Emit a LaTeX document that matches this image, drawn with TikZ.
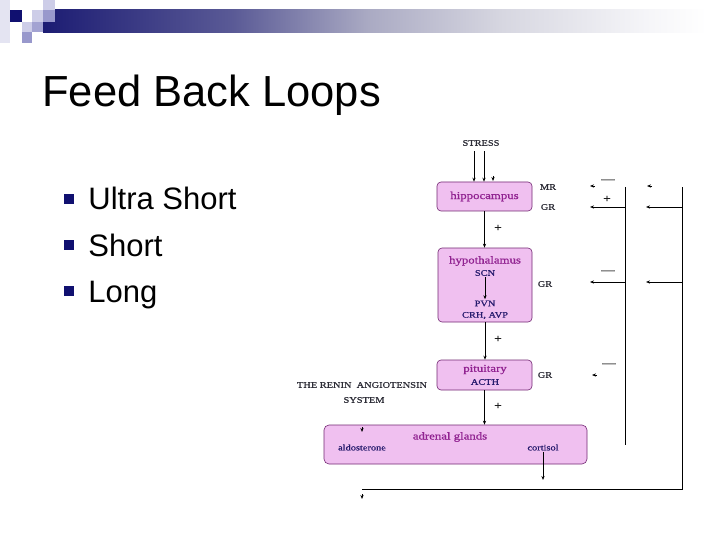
\documentclass[tikz,border=0pt]{standalone}
\usepackage{fontspec}
\setmainfont{Liberation Sans}
\newfontfamily\diagfont[FakeStretch=1.22, FakeBold=0.8]{Liberation Serif}
\usepackage{xcolor}
\usetikzlibrary{arrows.meta}

\definecolor{navyblue}{RGB}{16,16,112}
\definecolor{barA}{RGB}{28,28,115}
\definecolor{barB}{RGB}{90,90,150}
\definecolor{barC}{RGB}{170,170,195}
\definecolor{barD}{RGB}{215,215,225}
\definecolor{barE}{RGB}{245,245,248}
\definecolor{sqPale}{RGB}{228,228,242}
\definecolor{sqLight}{RGB}{205,205,232}
\definecolor{sqMid}{RGB}{152,152,204}
\definecolor{boxpink}{RGB}{240,192,240}
\definecolor{boxline}{RGB}{115,40,115}
\definecolor{organtext}{RGB}{145,35,145}
\definecolor{subtext}{RGB}{40,28,110}
\definecolor{tagtext}{RGB}{45,45,55}

\pgfdeclarehorizontalshading{titlebar}{100bp}{%
color(0bp)=(barA); color(25bp)=(barA); color(39bp)=(barB);
color(49bp)=(barC); color(59bp)=(barD); color(69.5bp)=(barE);
color(74bp)=(white); color(100bp)=(white)}

\def\tagSize{\fontsize{8.5}{9}\selectfont}
\def\organSize{\fontsize{10.5}{11}\selectfont}
\def\signSize{\fontsize{11}{11}\selectfont}
\def\stubLen{5}
\newcommand{\stubtip}[4]{%
% #1 = name, #2 = x, #3 = y, #4 = direction (1=left, 2=down)

\ifnum#4=1
\coordinate (#1 from) at ({#2+\stubLen},{#3});
\fi

\ifnum#4=2
\coordinate (#1 from) at ({#2},{#3-\stubLen});
\fi

\coordinate (#1) at ({#2},{#3});
\draw[->] (#1 from) -- (#1);
}

\begin{document}
\begin{tikzpicture}[
    x=1pt, y=-1pt,
    line width=0.8pt,
    >={Stealth[length=4pt,width=3.2pt]},
    organbox/.style={draw=boxline, fill=boxpink, line width=0.6pt, rounded corners=4pt,
        text=organtext, font=\diagfont\organSize, inner sep=0pt},
    organname/.style={text=organtext, font=\diagfont\organSize, inner sep=1pt},
    subname/.style={text=subtext, font=\diagfont\tagSize, inner sep=1pt},
    tag/.style={text=tagtext, font=\diagfont\tagSize, inner sep=1pt},
    sign/.style={text=black, font=\diagfont\signSize, inner sep=0pt}
]
\useasboundingbox (0,0) rectangle (720,540);
\fill[white] (0,0) rectangle (720,540);

% title bar
\shade[shading=titlebar] (43,10) rectangle (720,33);
\fill[sqPale] (0,0) rectangle (10,43);
\fill[navyblue] (10,10) rectangle (22,22);
\fill[sqLight] (22,22) rectangle (32,32);
\fill[sqMid] (22,32) rectangle (32,43);
\fill[sqLight] (32,10) rectangle (43,22);
\fill[sqMid!80!sqLight] (32,22) rectangle (43,32);
\fill[sqLight] (43,0) rectangle (55,10);
\fill[sqMid] (43,10) rectangle (55,22);

% title and bullets
\node[anchor=base west, font=\fontsize{43.5}{44}\selectfont, inner sep=0pt] (title) at (42,107) {Feed Back Loops};
\foreach \y/\txt [count=\i] in {210/Ultra Short,256/Short,302/Long}{
  \node[fill=navyblue, minimum size=10.5pt, inner sep=0pt] (bullet\i) at (69,\y-11) {};
  \node[anchor=base west, font=\fontsize{31}{31}\selectfont, inner sep=0pt] (item\i) at (88,\y) {\txt};
}

% organs
\node[tag] (stress) at (481,143) {STRESS};
\node[organbox, minimum width=95pt, minimum height=29pt] (hippo) at (484.5,196.5) {hippocampus};
\node[organbox, minimum width=94pt, minimum height=74pt] (hypo) at (485,285) {};
\node[organname] (hyponame) at (485,261) {hypothalamus};
\node[subname] (scn) at (485,273) {SCN};
\node[subname] (pvn) at (485,303.5) {PVN};
\node[subname] (crh) at (485,315.5) {CRH, AVP};
\node[organbox, minimum width=95pt, minimum height=30pt] (pit) at (484.5,375) {};
\node[organname] (pitname) at (485,369.5) {pituitary};
\node[subname] (acth) at (485,382) {ACTH};
\node[organbox, minimum width=263pt, minimum height=39pt, rounded corners=5pt] (adrenal) at (455.5,444.5) {};
\node[organname] (adrenalname) at (450,437) {adrenal glands};
\node[subname] (aldo) at (362,447.5) {aldosterone};
\node[subname] (cort) at (543,447.5) {cortisol};

% receptors and side labels
\node[tag] (mr) at (548,187) {MR};
\node[tag] (grHippo) at (548,207) {GR};
\node[tag] (grHypo) at (545,284) {GR};
\node[tag] (grPit) at (545,375) {GR};
\node[tag] (renin) at (362,385) {THE RENIN\ \ ANGIOTENSIN};
\node[tag] (system) at (364,400) {SYSTEM};

% signs
\node[sign] (plusA) at (498,228) {+};
\node[sign] (plusB) at (498,339) {+};
\node[sign] (plusC) at (498,406) {+};
\node[sign] (plusD) at (607,199) {+};
\node[sign] (minusA) at (608,181) {—};
\node[sign] (minusB) at (608,272) {—};
\node[sign] (minusC) at (609,365) {—};

% main axis
\draw[->, shorten <=4pt] ([xshift=-7pt]stress.south) -- ([xshift=-10.5pt]hippo.north);
\draw[->, shorten <=4pt] ([xshift=3pt]stress.south) -- ([xshift=-0.5pt]hippo.north);
\stubtip{stressTip}{493}{181}{2}
\draw[->] (hippo.south) -- (hippo.south |- hypo.north);
\draw[->] (scn) -- (pvn);
\draw[->] (hypo.south) -- (hypo.south |- pit.north);
\draw[->] (pit.south) -- (pit.south |- adrenal.north);
\coordinate (cortTip) at (543,480);
\draw[->] (cort) -- (cortTip);

% feedback loops
\coordinate (midTop) at (625,187);
\coordinate (midBot) at (625,445);
\coordinate (rightTop) at (682,187);
\coordinate (bottomRight) at (682,489);
\coordinate (bottomLeft) at (362,489);
\draw (midTop) -- (midBot);
\draw (bottomLeft) -- (bottomRight) -- (rightTop);
\foreach \y [count=\i] in {207,282}{
  \coordinate (midOut\i) at (625,\y);
  \coordinate (midIn\i) at (590,\y);
  \coordinate (rightOut\i) at (682,\y);
  \coordinate (rightIn\i) at (646,\y);
  \draw[->] (midOut\i) -- (midIn\i);
  \draw[->] (rightOut\i) -- (rightIn\i);
}
\stubtip{mrMid}{590}{186}{1}
\stubtip{mrRight}{647}{186}{1}
\stubtip{pitMid}{592}{375}{1}
\stubtip{aldoTip}{362}{432}{2}
\stubtip{loopTip}{362}{499}{2}
\end{tikzpicture}
\end{document}
